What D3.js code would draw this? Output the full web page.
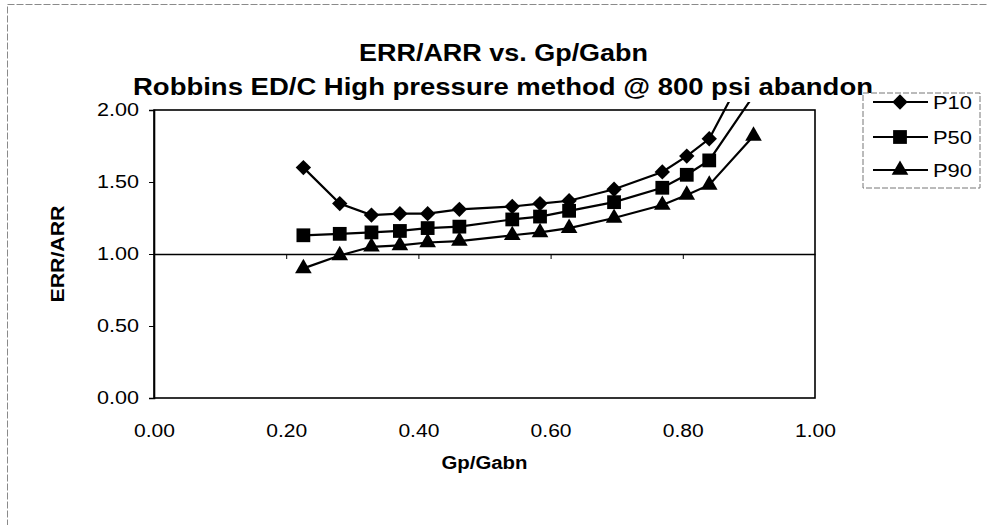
<!DOCTYPE html>
<html><head><meta charset="utf-8">
<script src="https://cdn.jsdelivr.net/npm/d3@7/dist/d3.min.js"></script>
<style>
html,body{margin:0;padding:0;background:#fff;}
svg{display:block;font-family:"Liberation Sans",Arial,sans-serif;}
</style></head>
<body>
<svg id="chart" width="987" height="525"></svg>
<script>
// ---- data ----
const gpGabn = [0.226, 0.281, 0.329, 0.372, 0.414, 0.462, 0.542, 0.584, 0.628, 0.696, 0.769, 0.806, 0.840, 0.907];
const p10 = [1.60, 1.35, 1.27, 1.28, 1.28, 1.31, 1.33, 1.35, 1.37, 1.45, 1.57, 1.68, 1.80, 2.38];
const p50 = [1.13, 1.14, 1.15, 1.16, 1.18, 1.19, 1.24, 1.26, 1.30, 1.36, 1.46, 1.55, 1.65, 2.10];
const p90 = [0.90, 0.99, 1.05, 1.06, 1.08, 1.09, 1.13, 1.15, 1.18, 1.25, 1.34, 1.41, 1.48, 1.82];
const seriesNames = ["P10", "P50", "P90"];
const xTicks = [0, 0.2, 0.4, 0.6, 0.8, 1.0];
const yTicks = [0, 0.5, 1.0, 1.5, 2.0];
const titleLines = ["ERR/ARR vs. Gp/Gabn", "Robbins ED/C High pressure method @ 800 psi abandon"];
const xTitle = "Gp/Gabn";
const yTitle = "ERR/ARR";

const svg = d3.select("#chart");
const L = 154, R = 815, T = 110, B = 398;
const x = d3.scaleLinear().domain([0, 1]).range([L, R]);
const y = d3.scaleLinear().domain([0, 2]).range([B, T]);

function stretch(sel, len) {
  sel.attr("textLength", len).attr("lengthAdjust", "spacingAndGlyphs");
}

// outer chart border (only left/top visible)
svg.append("rect").attr("x", 7.5).attr("y", 4.5).attr("width", 1100).attr("height", 700)
  .attr("fill", "none").attr("stroke", "#8a8a8a").attr("stroke-width", 1).attr("stroke-dasharray", "7,2");

// clip paths
const defs = svg.append("defs");
defs.append("clipPath").attr("id", "lineClip").append("rect")
  .attr("x", L).attr("y", 102).attr("width", R - L).attr("height", B - 102);
defs.append("clipPath").attr("id", "plotClip").append("rect")
  .attr("x", L - 10).attr("y", T - 1).attr("width", R - L + 20).attr("height", B - T + 12);

// titles
svg.append("text").attr("x", 359).attr("y", 61).attr("font-size", 23).attr("font-weight", "bold")
  .text(titleLines[0]).call(stretch, 289);
svg.append("text").attr("x", 133).attr("y", 95).attr("font-size", 23).attr("font-weight", "bold")
  .text(titleLines[1]).call(stretch, 740);

// plot area border
svg.append("rect").attr("x", L).attr("y", T).attr("width", R - L).attr("height", B - T)
  .attr("fill", "none").attr("stroke", "#000").attr("stroke-width", 1.6);

// y axis
const yAxis = svg.append("g").attr("transform", `translate(${L},0)`)
  .call(d3.axisLeft(y).tickValues(yTicks).tickSize(5).tickPadding(10).tickFormat(d3.format(".2f")));
yAxis.select(".domain").attr("stroke-width", 1.6);
yAxis.selectAll("text").attr("font-size", 18).attr("font-family", "Liberation Sans, Arial, sans-serif")
  .attr("fill", "#000").call(stretch, 42);

// x axis crossing at y = 1.00
const xAxisMid = svg.append("g").attr("transform", `translate(0,${y(1)})`)
  .call(d3.axisBottom(x).tickValues([0.2, 0.4, 0.6, 0.8]).tickSize(5).tickSizeOuter(0).tickFormat(""));
xAxisMid.select(".domain").attr("stroke-width", 1.4);

// x labels at bottom (low position)
const xAxisLow = svg.append("g").attr("transform", `translate(0,${B})`)
  .call(d3.axisBottom(x).tickValues(xTicks).tickSize(0).tickPadding(26).tickFormat(d3.format(".2f")));
xAxisLow.select(".domain").remove();
xAxisLow.selectAll("text").attr("font-size", 18).attr("font-family", "Liberation Sans, Arial, sans-serif")
  .attr("fill", "#000").call(stretch, 41);

// axis titles
svg.append("text").attr("x", (L + R) / 2).attr("y", 469).attr("text-anchor", "middle")
  .attr("font-size", 18).attr("font-weight", "bold").text(xTitle).call(stretch, 86);
svg.append("text").attr("transform", `translate(64,${(T + B) / 2}) rotate(-90)`)
  .attr("text-anchor", "middle").attr("font-size", 19).attr("font-weight", "bold")
  .text(yTitle).call(stretch, 97);

// series
const symbols = [
  d3.symbol().type(d3.symbolSquare).size(118)(),
  d3.symbol().type(d3.symbolSquare).size(190)(),
  d3.symbol().type(d3.symbolTriangle).size(120)()
];
const rotations = [45, 0, 0];
const allSeries = [p10, p50, p90];
const line = d3.line().x(d => x(d[0])).y(d => y(d[1]));

allSeries.forEach((vals, i) => {
  const pts = gpGabn.map((g, k) => [g, vals[k]]);
  svg.append("path").attr("d", line(pts)).attr("fill", "none").attr("stroke", "#000")
    .attr("stroke-width", 2.2).attr("clip-path", "url(#lineClip)");
  svg.append("g").attr("clip-path", "url(#plotClip)").selectAll("path")
    .data(pts.filter(p => p[1] <= 2)).join("path")
    .attr("d", symbols[i])
    .attr("transform", p => `translate(${x(p[0])},${y(p[1])}) rotate(${rotations[i]})`)
    .attr("fill", "#000");
});

// legend
const lg = svg.append("g");
lg.append("rect").attr("x", 863).attr("y", 93).attr("width", 117).attr("height", 95)
  .attr("fill", "#fff").attr("stroke", "#777").attr("stroke-width", 1).attr("stroke-dasharray", "6,2");
const legY = [102, 137, 170];
seriesNames.forEach((n, i) => {
  lg.append("line").attr("x1", 873).attr("x2", 928).attr("y1", legY[i]).attr("y2", legY[i])
    .attr("stroke", "#000").attr("stroke-width", 2.2);
  lg.append("path").attr("d", symbols[i])
    .attr("transform", `translate(900,${legY[i]}) rotate(${rotations[i]})`).attr("fill", "#000");
  lg.append("text").attr("x", 933).attr("y", legY[i] + 7).attr("font-size", 19)
    .text(n).call(stretch, 39);
});
</script>
</body></html>
